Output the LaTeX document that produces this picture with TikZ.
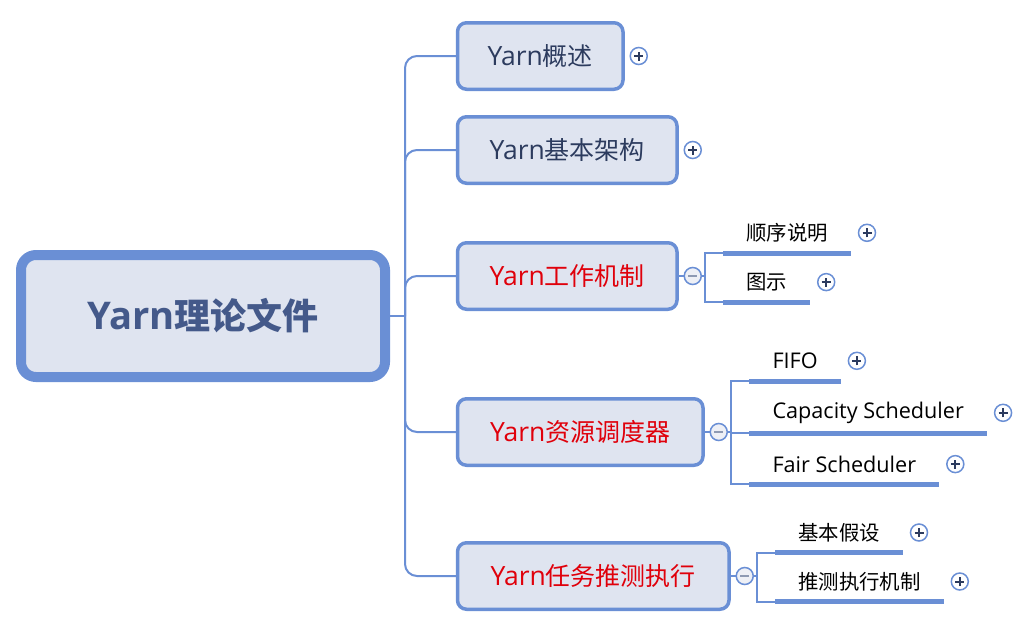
\documentclass[tikz,border=0pt]{standalone}
\usepackage{fontspec}
\setmainfont{Open Sans}[Scale=1.06]
\newfontfamily\cjk{Noto Sans CJK SC}
\usetikzlibrary{calc}
\definecolor{lineblue}{HTML}{6A8FD5}
\definecolor{boxfill}{HTML}{DFE4F0}
\definecolor{roottext}{HTML}{44598A}
\definecolor{navy}{HTML}{2C3B5E}
\definecolor{topicred}{HTML}{E0000B}
\definecolor{minusfill}{HTML}{EEF0F6}
\definecolor{minussign}{HTML}{8E9AB3}
\tikzset{
  rootbox/.style={draw=lineblue, fill=boxfill, line width=10pt, rounded corners=15pt,
    minimum width=364pt, minimum height=122pt, inner sep=0pt,
    font=\fontsize{36}{42}\selectfont\bfseries, text=roottext},
  topic/.style={draw=lineblue, fill=boxfill, line width=3.5pt, rounded corners=9pt,
    minimum height=66.5pt, inner sep=0pt, anchor=west,
    font=\fontsize{25}{30}\selectfont},
  conn/.style={draw=lineblue, line width=2pt},
  bar/.style={draw=lineblue, line width=5pt},
  sub/.style={anchor=south west, minimum height=40pt, inner xsep=23pt, inner ysep=0pt,
    font=\fontsize{20.4}{24}\selectfont, text=black},
  plusc/.style={circle, draw=lineblue, line width=1.5pt, fill=white, minimum size=17pt, inner sep=0pt,
    path picture={\draw[navy, line width=2pt]
      ($(path picture bounding box.center)+(-4.5pt,0)$) -- ($(path picture bounding box.center)+(4.5pt,0)$)
      ($(path picture bounding box.center)+(0,-4.5pt)$) -- ($(path picture bounding box.center)+(0,4.5pt)$);}},
  minusc/.style={circle, draw=lineblue, line width=1.5pt, fill=minusfill, minimum size=17pt, inner sep=0pt,
    path picture={\draw[minussign, line width=2pt]
      ($(path picture bounding box.center)+(-4.5pt,0)$) -- ($(path picture bounding box.center)+(4.5pt,0)$);}}
}
\begin{document}
\begin{tikzpicture}[x=1pt, y=-1pt]
\useasboundingbox (0,0) rectangle (1022,632);

% root
\node[rootbox] (root) at (203,316) {Yarn{\cjk 理论文件}};
\coordinate (tr) at (405,316);
\draw[conn] (root.east) -- (tr);

% main topics
\node[topic, minimum width=165.5pt, text=navy] (t1) at (455.75,56) {Yarn{\cjk 概述}};
\node[topic, minimum width=219.5pt, text=navy] (t2) at (455.75,150) {Yarn{\cjk 基本架构}};
\node[topic, minimum width=219.5pt, text=topicred] (t3) at (455.75,276) {Yarn{\cjk 工作机制}};
\node[topic, minimum width=245.5pt, text=topicred] (t4) at (455.75,432) {Yarn{\cjk 资源调度器}};
\node[topic, minimum width=271.5pt, text=topicred] (t5) at (455.75,576) {Yarn{\cjk 任务推测执行}};

\foreach \t in {t1,t2,t3,t4,t5}{
  \draw[conn, rounded corners=12pt] (tr) |- (\t.west);
}

% collapse markers on topics
\node[plusc] (p1) at ($(t1.east)+(14,0)$) {};
\node[plusc] (p2) at ($(t2.east)+(14,0)$) {};
\node[minusc] (m3) at ($(t3.east)+(14,0)$) {};
\node[minusc] (m4) at ($(t4.east)+(14,0)$) {};
\node[minusc] (m5) at ($(t5.east)+(14,0)$) {};
\draw[conn] (t3.east) -- (m3.west);
\draw[conn] (t4.east) -- (m4.west);
\draw[conn] (t5.east) -- (m5.west);

% subtopics of t3
\node[sub] (s31) at (723,253) {\cjk 顺序说明};
\node[sub] (s32) at (723,302.3) {\cjk 图示};
% subtopics of t4
\node[sub] (s41) at (749.3,381) {FIFO};
\node[sub] (s42) at (749.3,433) {Capacity Scheduler};
\node[sub] (s43) at (749.3,484.3) {Fair Scheduler};
% subtopics of t5
\node[sub] (s51) at (775,552.7) {\cjk 基本假设};
\node[sub] (s52) at (775,601.7) {\cjk 推测执行机制};

\coordinate (v3) at ($(m3.east)+(2.5,0)$);
\coordinate (v4) at ($(m4.east)+(2.5,0)$);
\coordinate (v5) at ($(m5.east)+(2.5,0)$);
\draw[conn] (m3.east) -- (v3);
\draw[conn] (m4.east) -- (v4);
\draw[conn] (m5.east) -- (v5);
\foreach \v/\s in {v3/s31,v3/s32,v4/s41,v4/s42,v4/s43,v5/s51,v5/s52}{
  \draw[conn] (\v) |- (\s.south west);
}
\foreach \s in {s31,s32,s41,s42,s43,s51,s52}{
  \draw[bar] (\s.south west) -- (\s.south east);
  \node[plusc] (\s p) at ($(\s.east)+(16,0)$) {};
}
\end{tikzpicture}
\end{document}
